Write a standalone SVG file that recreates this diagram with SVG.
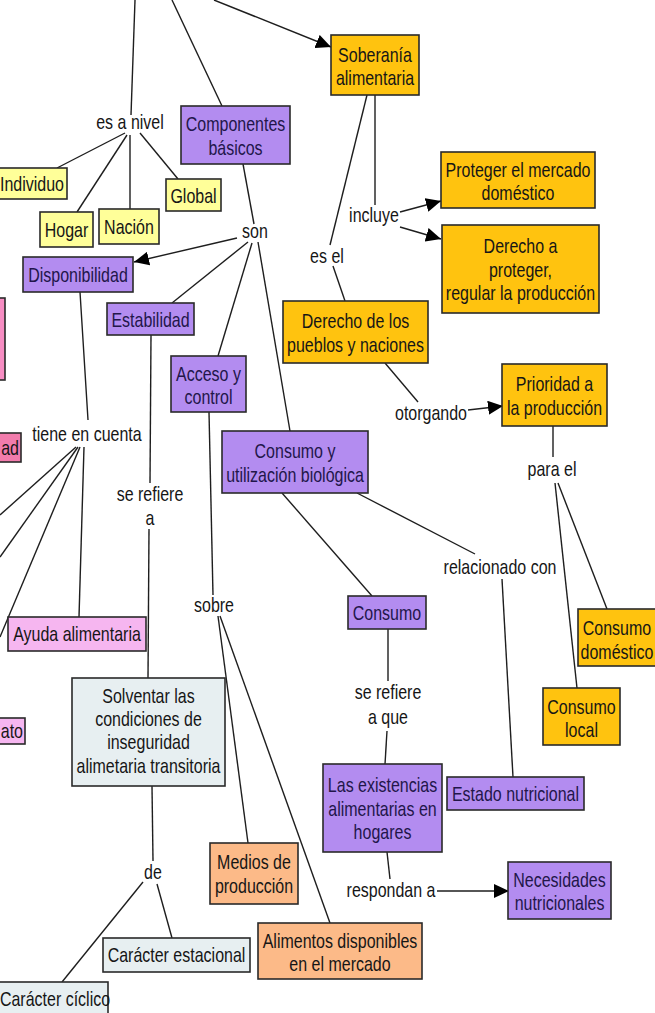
<svg xmlns="http://www.w3.org/2000/svg" width="655" height="1013" viewBox="0 0 655 1013">
<defs>
<style>
text{font-family:"Liberation Sans",Arial,sans-serif;font-size:16px;text-anchor:middle;fill:#161616}
.box{stroke:#2a2a2a;stroke-width:1.6}
.gold{fill:#FFC30F}
.ylw{fill:#FFFF99}
.pur{fill:#B38CF0}
.org{fill:#FCBA88}
.gry{fill:#E7EFF1}
.pnk{fill:#F6B6F0}
.pk2{fill:#F78DC3}
.pk3{fill:#F27CAC}
.pt{fill:#22164A}
.c line{stroke:#1e1e1e;stroke-width:1.4}
.c .a{marker-end:url(#ah)}
</style>
<marker id="ah" markerUnits="userSpaceOnUse" markerWidth="16" markerHeight="14" refX="15" refY="7" orient="auto">
<path d="M0,0 L15,7 L0,14 Z" fill="#000"/>
</marker>
</defs>
<rect width="655" height="1013" fill="#fff"/>
<g class="c" id="connectors">
<line x1="135" y1="0" x2="131" y2="115"/>
<line x1="172" y1="0" x2="222" y2="106"/>
<line class="a" x1="214" y1="0" x2="331" y2="47"/>
<line x1="125" y1="133" x2="57" y2="168"/>
<line x1="127" y1="135" x2="77" y2="212"/>
<line x1="130" y1="135" x2="130" y2="209"/>
<line x1="140" y1="133" x2="178" y2="179"/>
<line x1="243" y1="164" x2="254" y2="224"/>
<line class="a" x1="237" y1="238" x2="134" y2="262"/>
<line x1="248" y1="242" x2="172" y2="303"/>
<line x1="252" y1="243" x2="218" y2="356"/>
<line x1="258" y1="242" x2="290" y2="431"/>
<line x1="367" y1="95" x2="330" y2="245"/>
<line x1="333" y1="266" x2="345" y2="301"/>
<line x1="375" y1="95" x2="375" y2="205"/>
<line class="a" x1="400" y1="212" x2="441" y2="201"/>
<line class="a" x1="400" y1="227" x2="441" y2="239"/>
<line x1="385" y1="363" x2="418" y2="402"/>
<line class="a" x1="468" y1="410" x2="503" y2="406"/>
<line x1="553" y1="426" x2="553" y2="457"/>
<line x1="555" y1="483" x2="577" y2="688"/>
<line x1="558" y1="483" x2="607" y2="609"/>
<line x1="282" y1="493" x2="372" y2="596"/>
<line x1="357" y1="493" x2="475" y2="554"/>
<line x1="502" y1="579" x2="513" y2="777"/>
<line x1="388" y1="629" x2="388" y2="681"/>
<line x1="387" y1="731" x2="385" y2="764"/>
<line x1="387" y1="852" x2="390" y2="879"/>
<line class="a" x1="437" y1="891" x2="509" y2="891"/>
<line x1="209" y1="412" x2="213" y2="595"/>
<line x1="218" y1="616" x2="248" y2="843"/>
<line x1="220" y1="616" x2="330" y2="923"/>
<line x1="151" y1="335" x2="150" y2="483"/>
<line x1="149" y1="529" x2="148" y2="678"/>
<line x1="152" y1="786" x2="153" y2="861"/>
<line x1="157" y1="884" x2="172" y2="938"/>
<line x1="143" y1="882" x2="62" y2="982"/>
<line x1="80" y1="292" x2="88" y2="420"/>
<line x1="76" y1="447" x2="0" y2="515"/>
<line x1="78" y1="447" x2="0" y2="557"/>
<line x1="80" y1="447" x2="0" y2="637"/>
<line x1="84" y1="447" x2="79" y2="617"/>
</g>
<g id="labels">
<text transform="translate(130 129) scale(1 1.32)">es a nivel</text>
<text transform="translate(255 238) scale(1 1.32)">son</text>
<text transform="translate(327 263) scale(1 1.32)">es el</text>
<text transform="translate(374 222) scale(1 1.32)">incluye</text>
<text transform="translate(431 420) scale(1 1.32)">otorgando</text>
<text transform="translate(552 476) scale(1 1.32)">para el</text>
<text transform="translate(500 574) scale(1 1.32)">relacionado con</text>
<text transform="translate(388 699) scale(1 1.32)">se refiere</text>
<text transform="translate(388 724) scale(1 1.32)">a que</text>
<text transform="translate(391 897) scale(1 1.32)">respondan a</text>
<text transform="translate(214 612) scale(1 1.32)">sobre</text>
<text transform="translate(87 441) scale(1 1.32)">tiene en cuenta</text>
<text transform="translate(150 501) scale(1 1.32)">se refiere</text>
<text transform="translate(150 525) scale(1 1.32)">a</text>
<text transform="translate(153 879) scale(1 1.32)">de</text>
</g>
<g id="n-soberania"><rect class="box gold" x="331" y="35" width="88" height="60"/>
<text transform="translate(375 62) scale(1 1.32)">Soberanía</text>
<text transform="translate(375 85) scale(1 1.32)">alimentaria</text></g>
<g id="n-componentes"><rect class="box pur" x="181" y="106" width="109" height="58"/>
<text class="pt" transform="translate(235.5 131) scale(1 1.32)">Componentes</text>
<text class="pt" transform="translate(235.5 155) scale(1 1.32)">básicos</text></g>
<g id="n-individuo"><rect class="box ylw" x="-8" y="168" width="75" height="31"/>
<text transform="translate(32 191) scale(1 1.32)">Individuo</text></g>
<g id="n-global"><rect class="box ylw" x="166" y="179" width="55" height="32"/>
<text transform="translate(193.5 203) scale(1 1.32)">Global</text></g>
<g id="n-hogar"><rect class="box ylw" x="40" y="212" width="53" height="35"/>
<text transform="translate(66.5 237) scale(1 1.32)">Hogar</text></g>
<g id="n-nacion"><rect class="box ylw" x="99" y="209" width="60" height="35"/>
<text transform="translate(129 234) scale(1 1.32)">Nación</text></g>
<g id="n-disponibilidad"><rect class="box pur" x="23" y="257" width="110" height="35"/>
<text class="pt" transform="translate(78 282) scale(1 1.32)">Disponibilidad</text></g>
<g id="n-estabilidad"><rect class="box pur" x="107" y="303" width="87" height="32"/>
<text class="pt" transform="translate(150.5 327) scale(1 1.32)">Estabilidad</text></g>
<g id="n-acceso"><rect class="box pur" x="171" y="356" width="75" height="56"/>
<text class="pt" transform="translate(208.5 381) scale(1 1.32)">Acceso y</text>
<text class="pt" transform="translate(208.5 404) scale(1 1.32)">control</text></g>
<g id="n-consumo-util"><rect class="box pur" x="222" y="431" width="146" height="62"/>
<text class="pt" transform="translate(295 458) scale(1 1.32)">Consumo y</text>
<text class="pt" transform="translate(295 482) scale(1 1.32)">utilización biológica</text></g>
<g id="n-proteger"><rect class="box gold" x="441" y="152" width="154" height="56"/>
<text transform="translate(518 177) scale(1 1.32)">Proteger el mercado</text>
<text transform="translate(518 200) scale(1 1.32)">doméstico</text></g>
<g id="n-derecho-a"><rect class="box gold" x="442" y="225" width="157" height="88"/>
<text transform="translate(520.5 253) scale(1 1.32)">Derecho a</text>
<text transform="translate(520.5 277) scale(1 1.32)">proteger,</text>
<text transform="translate(520.5 300) scale(1 1.32)">regular la producción</text></g>
<g id="n-derecho-pueblos"><rect class="box gold" x="283" y="301" width="145" height="62"/>
<text transform="translate(355.5 328) scale(1 1.32)">Derecho de los</text>
<text transform="translate(355.5 352) scale(1 1.32)">pueblos y naciones</text></g>
<g id="n-prioridad"><rect class="box gold" x="502" y="364" width="105" height="62"/>
<text transform="translate(554.5 391) scale(1 1.32)">Prioridad a</text>
<text transform="translate(554.5 415) scale(1 1.32)">la producción</text></g>
<g id="n-consumo-domestico"><rect class="box gold" x="578" y="609" width="80" height="57"/>
<text transform="translate(617 635) scale(1 1.32)">Consumo</text>
<text transform="translate(617 659) scale(1 1.32)">doméstico</text></g>
<g id="n-consumo-local"><rect class="box gold" x="543" y="688" width="77" height="57"/>
<text transform="translate(581.5 714) scale(1 1.32)">Consumo</text>
<text transform="translate(581.5 737) scale(1 1.32)">local</text></g>
<g id="n-consumo"><rect class="box pur" x="348" y="596" width="78" height="33"/>
<text class="pt" transform="translate(387 620) scale(1 1.32)">Consumo</text></g>
<g id="n-estado"><rect class="box pur" x="447" y="777" width="137" height="33"/>
<text class="pt" transform="translate(515.5 801) scale(1 1.32)">Estado nutricional</text></g>
<g id="n-existencias"><rect class="box pur" x="323" y="764" width="119" height="88"/>
<text class="pt" transform="translate(382.5 792) scale(1 1.32)">Las existencias</text>
<text class="pt" transform="translate(382.5 816) scale(1 1.32)">alimentarias en</text>
<text class="pt" transform="translate(382.5 839) scale(1 1.32)">hogares</text></g>
<g id="n-necesidades"><rect class="box pur" x="508" y="862" width="103" height="57"/>
<text class="pt" transform="translate(559.5 887) scale(1 1.32)">Necesidades</text>
<text class="pt" transform="translate(559.5 910) scale(1 1.32)">nutricionales</text></g>
<g id="n-alimentos"><rect class="box org" x="258" y="923" width="164" height="56"/>
<text transform="translate(340 948) scale(1 1.32)">Alimentos disponibles</text>
<text transform="translate(340 971) scale(1 1.32)">en el mercado</text></g>
<g id="n-medios"><rect class="box org" x="210" y="843" width="88" height="61"/>
<text transform="translate(254 869) scale(1 1.32)">Medios de</text>
<text transform="translate(254 893) scale(1 1.32)">producción</text></g>
<g id="n-solventar"><rect class="box gry" x="72" y="678" width="153" height="108"/>
<text transform="translate(148.5 703) scale(1 1.32)">Solventar las</text>
<text transform="translate(148.5 726) scale(1 1.32)">condiciones de</text>
<text transform="translate(148.5 749) scale(1 1.32)">inseguridad</text>
<text transform="translate(148.5 773) scale(1 1.32)">alimetaria transitoria</text></g>
<g id="n-estacional"><rect class="box gry" x="103" y="938" width="147" height="34"/>
<text transform="translate(176.5 962) scale(1 1.32)">Carácter estacional</text></g>
<g id="n-ciclico"><rect class="box gry" x="-5" y="982" width="113" height="40"/>
<text transform="translate(55 1006) scale(1 1.32)">Carácter cíclico</text></g>
<g id="n-ayuda"><rect class="box pnk" x="8" y="617" width="138" height="34"/>
<text transform="translate(77 641) scale(1 1.32)">Ayuda alimentaria</text></g>
<g id="n-left-pink"><rect class="box pk2" x="-50" y="298" width="55" height="82"/></g>
<g id="n-left-ad"><rect class="box pk3" x="-40" y="433" width="61" height="29"/>
<text style="text-anchor:end" transform="translate(19 455) scale(1 1.32)">ad</text></g>
<g id="n-left-ato"><rect class="box pnk" x="-40" y="718" width="65" height="26"/>
<text style="text-anchor:end" transform="translate(23 738) scale(1 1.32)">ato</text></g>
</svg>
